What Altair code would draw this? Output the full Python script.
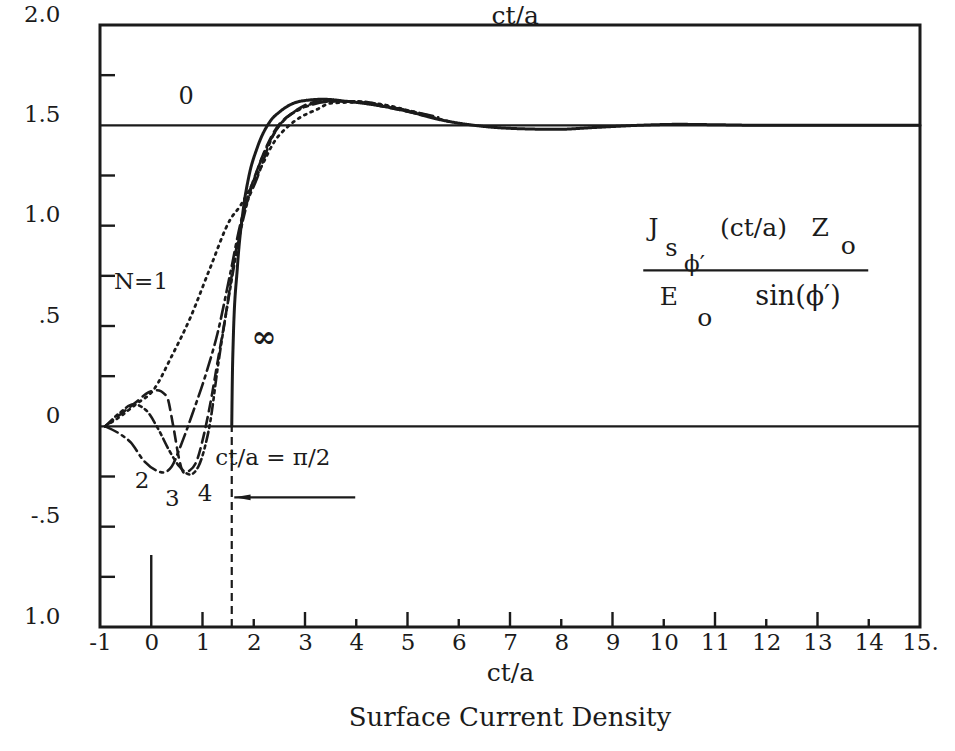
import math
import altair as alt
import pandas as pd

# ---------------- data ----------------
# N = infinity (solid)
x_inf = [1.5708, 1.58, 1.6, 1.68, 1.8, 1.9, 2.07, 2.32, 2.52, 2.91, 3.36, 3.8, 4.4, 5.0, 5.6,
         6.3, 7.0, 7.9, 8.7, 9.5, 10.3, 11.0, 12.0, 13.0, 14.0, 15.0]
y_inf = [0.0, 0.2, 0.43, 0.79, 1.09, 1.24, 1.39, 1.52, 1.57, 1.62, 1.63, 1.62, 1.6, 1.57, 1.53,
         1.5, 1.485, 1.48, 1.49, 1.5, 1.505, 1.503, 1.5, 1.5, 1.5, 1.5]
# N = 1 (dotted)
x_n1 = [-0.9, -0.6, -0.3, 0.04, 0.4, 0.76, 1.15, 1.54, 1.74, 2.0, 2.2, 2.38, 2.65, 2.91, 3.24,
        3.5, 4.0, 4.6, 5.2, 5.8]
y_n1 = [0.0, 0.05, 0.11, 0.18, 0.35, 0.54, 0.79, 1.03, 1.1, 1.22, 1.32, 1.41, 1.49, 1.54, 1.58,
        1.61, 1.615, 1.6, 1.56, 1.52]
# N = 2 (dash-dot)
x_n2 = [-0.9, -0.6, -0.4, -0.15, 0.1, 0.23, 0.4, 0.57, 0.8, 1.09, 1.29, 1.54, 1.75, 2.07, 2.38,
        2.7, 3.1, 3.6, 4.2, 4.9, 5.6]
y_n2 = [0.0, -0.04, -0.08, -0.17, -0.22, -0.23, -0.2, -0.1, 0.06, 0.28, 0.46, 0.76, 1.02, 1.24,
        1.45, 1.55, 1.6, 1.62, 1.61, 1.58, 1.54]
# N = 3 (dashed)
x_n3 = [-0.9, -0.6, -0.3, -0.05, 0.11, 0.3, 0.43, 0.55, 0.63, 0.75, 0.89, 1.02, 1.15, 1.3, 1.45,
        1.6, 1.8, 2.1, 2.4, 2.8, 3.3, 3.9, 4.6, 5.3]
y_n3 = [0.0, 0.06, 0.12, 0.17, 0.18, 0.15, 0.0, -0.17, -0.23, -0.22, -0.17, -0.05, 0.11, 0.33,
        0.55, 0.8, 1.06, 1.3, 1.47, 1.57, 1.62, 1.62, 1.59, 1.55]
# N = 4 (dash-dot-dot)
x_n4 = [-0.9, -0.6, -0.35, -0.1, 0.15, 0.35, 0.55, 0.76, 0.92, 1.05, 1.15, 1.29, 1.42, 1.55, 1.7,
        1.9, 2.2, 2.5, 2.9, 3.4, 4.0, 4.7, 5.4]
y_n4 = [0.0, 0.07, 0.11, 0.08, -0.02, -0.12, -0.2, -0.24, -0.2, -0.1, 0.02, 0.28, 0.5, 0.7, 0.92,
        1.14, 1.36, 1.5, 1.58, 1.62, 1.62, 1.59, 1.55]

x_tick_labels = list(range(-1, 16))
y_tick_labels = [-1, -0.5, 0, 0.5, 1, 1.5, 2]
y_minor_ticks = [-0.75, -0.5, -0.25, 0.25, 0.5, 0.75, 1.0, 1.25, 1.75]
x_odd_ticks = [1, 3, 5, 7, 9, 11, 13]
x_even_ticks = [2, 4, 6, 8, 10, 12, 14]
h_lines = [0.0, 1.5]
pi_half = math.pi / 2

INK = "#1b1b1b"
FONT = "DejaVu Serif"

# ---------------- layers ----------------
X = alt.X("x:Q", scale=alt.Scale(domain=[-1, 15], nice=False, zero=False),
          axis=alt.Axis(values=x_tick_labels, labelExpr="datum.value == 15 ? '15.' : datum.value",
                        ticks=False, domain=False, grid=False, labelFlush=False, labelOverlap=False,
                        labelFont=FONT, labelFontSize=23, labelColor=INK, labelPadding=4,
                        title="ct/a", titleFont=FONT, titleFontSize=25, titleFontWeight="normal",
                        titleColor=INK, titlePadding=6))
Y = alt.Y("y:Q", scale=alt.Scale(domain=[-1, 2], nice=False, zero=False),
          axis=alt.Axis(values=y_tick_labels,
                        labelExpr="datum.value == -1 ? '1.0' : datum.value == -0.5 ? '-.5' : "
                                  "datum.value == 0.5 ? '.5' : datum.value == 0 ? '0' : format(datum.value, '.1f')",
                        ticks=False, domain=False, grid=False, labelFont=FONT, labelFontSize=23,
                        labelColor=INK, labelPadding=40, labelOffset=-11, title=None))

curves = []
for name, xs, ys, dash, w in [
    ("inf", x_inf, y_inf, [1, 0], 3.0),
    ("N1", x_n1, y_n1, [2, 5], 2.8),
    ("N2", x_n2, y_n2, [14, 5, 3, 5], 2.6),
    ("N3", x_n3, y_n3, [10, 6], 2.6),
    ("N4", x_n4, y_n4, [10, 4, 3, 4, 3, 4], 2.6),
]:
    df = pd.DataFrame({"x": xs, "y": ys})
    curves.append(
        alt.Chart(df).mark_line(color=INK, strokeWidth=w, strokeDash=dash, interpolate="monotone",
                                strokeCap="round").encode(x=X, y=Y)
    )

frame = alt.Chart(pd.DataFrame({"k": [0]})).mark_rect(
    fill=None, fillOpacity=0, stroke=INK, strokeWidth=3).encode(
    x=alt.value(0), x2=alt.value(820), y=alt.value(0), y2=alt.value(602))

hl = alt.Chart(pd.DataFrame({"y": h_lines})).mark_rule(color=INK, strokeWidth=2.4).encode(
    y=alt.Y("y:Q", scale=alt.Scale(domain=[-1, 2], nice=False)))

vdash = alt.Chart(pd.DataFrame({"x": [pi_half], "y": [-1.0], "y2": [0.0]})).mark_rule(
    color=INK, strokeWidth=2.2, strokeDash=[8, 5]).encode(x=alt.X("x:Q"), y=alt.Y("y:Q"), y2="y2:Q")

yticks = alt.Chart(pd.DataFrame({"y": y_minor_ticks})).mark_rule(color=INK, strokeWidth=2.4).encode(
    y="y:Q", x=alt.value(0), x2=alt.value(15))

xt_odd = alt.Chart(pd.DataFrame({"x": x_odd_ticks})).mark_rule(color=INK, strokeWidth=2.4).encode(
    x="x:Q", y=alt.value(602), y2=alt.value(587))
xt_even = alt.Chart(pd.DataFrame({"x": x_even_ticks})).mark_rule(color=INK, strokeWidth=2.4).encode(
    x="x:Q", y=alt.value(602), y2=alt.value(594))
xt_zero = alt.Chart(pd.DataFrame({"x": [0]})).mark_rule(color=INK, strokeWidth=2.4).encode(
    x="x:Q", y=alt.value(602), y2=alt.value(530))

# arrow pointing to ct/a = pi/2
arrow_line = alt.Chart(pd.DataFrame({"x": [1.62], "x2": [3.98], "y": [-0.354]})).mark_rule(
    color=INK, strokeWidth=2.2).encode(x="x:Q", x2="x2:Q", y="y:Q")
arrow_head = alt.Chart(pd.DataFrame({"x": [1.78], "y": [-0.354]})).mark_point(
    shape="M1,-0.35L-1,0L1,0.35Z", filled=True, color=INK, size=260, opacity=1).encode(x="x:Q", y="y:Q")

# annotations
ann = pd.DataFrame([
    {"t": "0", "x": 0.68, "y": 1.64, "s": 24, "a": "center"},
    {"t": "N=1", "x": -0.2, "y": 0.72, "s": 23, "a": "center"},
    {"t": "2", "x": -0.18, "y": -0.27, "s": 23, "a": "center"},
    {"t": "3", "x": 0.41, "y": -0.36, "s": 23, "a": "center"},
    {"t": "4", "x": 1.05, "y": -0.335, "s": 23, "a": "center"},
    {"t": "ct/a = π/2", "x": 1.25, "y": -0.16, "s": 23, "a": "left"},
    {"t": "J", "x": 9.8, "y": 0.99, "s": 25, "a": "center"},
    {"t": "s", "x": 10.15, "y": 0.885, "s": 24, "a": "center"},
    {"t": "ϕ′", "x": 10.6, "y": 0.81, "s": 23, "a": "center"},
    {"t": "(ct/a)", "x": 11.75, "y": 0.99, "s": 25, "a": "center"},
    {"t": "Z", "x": 13.05, "y": 0.99, "s": 25, "a": "center"},
    {"t": "o", "x": 13.6, "y": 0.9, "s": 25, "a": "center"},
    {"t": "E", "x": 10.1, "y": 0.645, "s": 25, "a": "center"},
    {"t": "o", "x": 10.8, "y": 0.54, "s": 25, "a": "center"},
    {"t": "sin(ϕ′)", "x": 12.62, "y": 0.645, "s": 27, "a": "center"},
    {"t": "ct/a", "x": 7.1, "y": 2.045, "s": 25, "a": "center"},
])
texts = []
for al in ["center", "left"]:
    sub = ann[ann["a"] == al]
    texts.append(alt.Chart(sub).mark_text(font=FONT, color=INK, align=al, baseline="middle").encode(
        x=alt.X("x:Q"), y=alt.Y("y:Q"), text="t:N", size=alt.Size("s:Q", scale=None, legend=None)))

infinity = alt.Chart(pd.DataFrame({"t": ["∞"], "x": [2.2], "y": [0.44]})).mark_text(
    font=FONT, color=INK, fontSize=30, fontWeight="bold").encode(x="x:Q", y="y:Q", text="t:N")

frac_line = alt.Chart(pd.DataFrame({"x": [9.6], "x2": [13.99], "y": [0.777]})).mark_rule(
    color=INK, strokeWidth=2.2).encode(x="x:Q", x2="x2:Q", y="y:Q")

chart = alt.layer(
    frame, hl, vdash, yticks, xt_odd, xt_even, xt_zero, *curves, arrow_line, arrow_head, frac_line,
    *texts, infinity
).properties(
    width=820, height=602,
    padding={"left": 100, "top": 25, "right": 35, "bottom": 124},
    autosize=alt.AutoSizeParams(type="none"),
    title=alt.TitleParams("Surface Current Density", orient="bottom", font=FONT, fontSize=26,
                          fontWeight="normal", color=INK, offset=20),
).configure_view(stroke=INK, strokeWidth=3).configure(background="white")

chart.save("out.html", embed_options={"renderer": "svg", "actions": False})
